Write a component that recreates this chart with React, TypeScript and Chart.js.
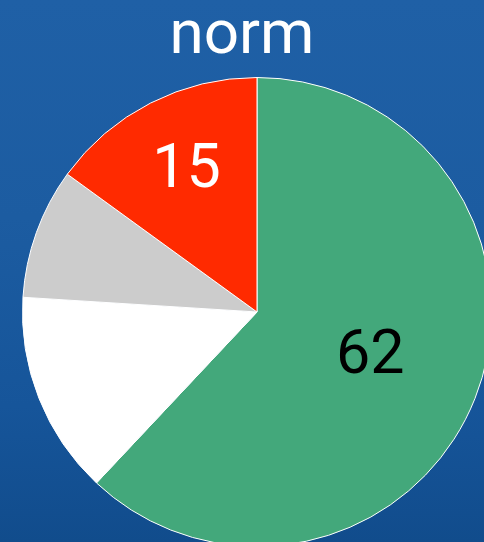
import React, { useEffect, useRef } from "react";
import { Chart, registerables } from "chart.js";

Chart.register(...registerables);

const titleText = "norm";
const categories = ["A", "B", "C", "D"];
const values = [62, 14, 9, 15];
const sliceColors = ["#43a87b", "#ffffff", "#cccccc", "#ff2a00"];
const shownLabels = [true, false, false, true];
const labelColors = ["#000000", "#ffffff", "#000000", "#ffffff"];
const labelRadiusFrac = [0.51, 0.5, 0.5, 0.68];

const FONT = "Roboto, 'Open Sans', sans-serif";

const overlayPlugin = {
  id: "overlay",
  afterDatasetsDraw(chart: any) {
    const ctx = chart.ctx;
    const meta = chart.getDatasetMeta(0);
    ctx.save();
    ctx.font = `61px ${FONT}`;
    ctx.textAlign = "center";
    ctx.textBaseline = "middle";
    meta.data.forEach((arc: any, i: number) => {
      if (!shownLabels[i]) return;
      const p = arc.getProps(["x", "y", "startAngle", "endAngle", "outerRadius"], true);
      const mid = (p.startAngle + p.endAngle) / 2;
      const r = p.outerRadius * labelRadiusFrac[i];
      ctx.fillStyle = labelColors[i];
      ctx.fillText(String(values[i]), p.x + Math.cos(mid) * r + 2, p.y + Math.sin(mid) * r + 2);
    });
    ctx.font = `62px ${FONT}`;
    ctx.fillStyle = "#ffffff";
    ctx.textBaseline = "alphabetic";
    ctx.fillText(titleText, 242, 53);
    ctx.restore();
  },
};

export default function App() {
  const ref = useRef<HTMLCanvasElement | null>(null);
  useEffect(() => {
    if (!ref.current) return;
    const chart = new Chart(ref.current, {
      type: "pie",
      data: {
        labels: categories,
        datasets: [
          {
            data: values,
            backgroundColor: sliceColors,
            borderColor: "#ffffff",
            borderWidth: 1,
          },
        ],
      },
      options: {
        animation: false,
        responsive: false,
        layout: { padding: { top: 77, bottom: 13, left: 22, right: 22 } },
        plugins: {
          legend: { display: false },
          tooltip: { enabled: false },
          title: { display: false },
        },
      },
      plugins: [overlayPlugin],
    });
    return () => chart.destroy();
  }, []);

  return (
    <div
      style={{
        position: "fixed",
        left: 0,
        top: 0,
        width: 484,
        height: 542,
        overflow: "hidden",
        background:
          "linear-gradient(180deg, #1f60a6 0%, #1c5ca1 40%, #16559a 75%, #114c8c 100%)",
      }}
    >
      <canvas
        ref={ref}
        width={514}
        height={560}
        style={{ position: "absolute", left: 0, top: 0, width: 514, height: 560 }}
      />
    </div>
  );
}
